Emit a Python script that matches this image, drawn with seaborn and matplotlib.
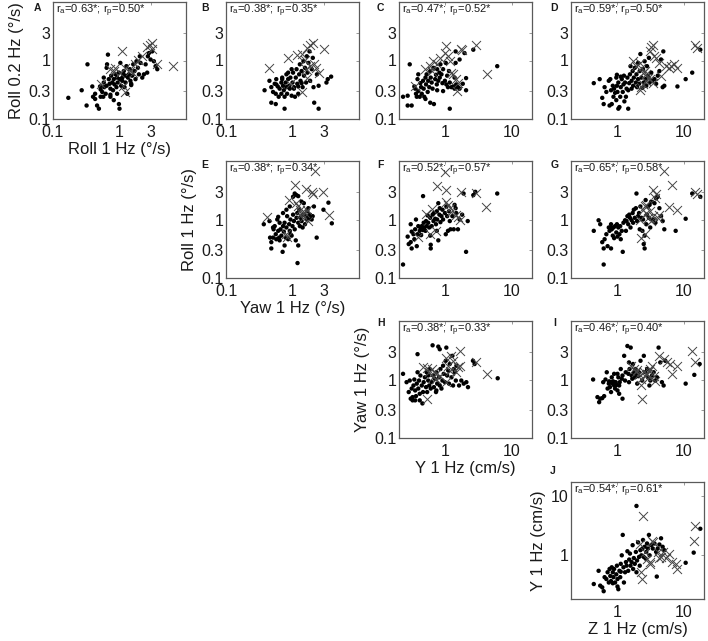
import matplotlib
matplotlib.use("Agg")
import matplotlib.pyplot as plt
from matplotlib.ticker import FixedLocator, FixedFormatter, NullLocator
import seaborn as sns
import pandas as pd

sns.set_style("white")
plt.rcParams["font.family"] = ["Liberation Sans", "DejaVu Sans"]
plt.rcParams["mathtext.fontset"] = "custom"
plt.rcParams["mathtext.rm"] = "Liberation Sans"
plt.rcParams["mathtext.default"] = "regular"

# ---------------- data (x, y) per panel ----------------
A_dots = [(0.17,0.23),(0.27,0.31),(0.32,0.17),(0.33,0.86),(0.39,0.36),(0.40,0.24),(0.43,0.27),(0.46,0.17),(0.49,0.15),(0.51,0.36),(0.52,0.32),(0.55,0.29),(0.57,0.24),(0.58,0.42),(0.59,0.35),(0.62,0.27),(0.64,0.37),(0.64,0.75),(0.65,0.86),(0.67,1.26),(0.69,0.48),(0.71,0.40),(0.73,0.33),(0.73,0.26),(0.75,0.55),(0.78,0.42),(0.80,0.31),(0.82,0.48),(0.84,0.39),(0.87,0.58),(0.90,0.35),(0.92,0.27),(0.94,0.42),(0.98,0.62),(0.98,0.18),(1.0,0.15),(1.01,0.48),(1.03,0.91),(1.06,0.37),(1.10,0.51),(1.14,0.58),(1.16,0.66),(1.19,0.35),(1.23,0.42),(1.27,0.80),(1.31,0.27),(1.34,0.51),(1.38,0.58),(1.43,0.71),(1.46,0.45),(1.50,0.40),(1.55,0.55),(1.61,0.86),(1.68,0.66),(1.74,0.48),(1.80,0.97),(1.89,0.75),(1.96,0.58),(2.02,1.18),(2.07,0.91),(2.20,0.51),(2.33,0.58),(2.47,0.86),(2.61,0.62),(2.67,1.18),(2.77,1.34),(2.93,1.04),(3.10,1.43),(3.29,0.97),(3.49,0.80),(3.70,0.71),(0.73,0.24),(0.82,0.21),(0.58,0.51),(0.52,0.24),(0.43,0.22),(0.92,0.51),(1.10,0.45),(1.23,0.55),(1.50,0.38)]
A_cross = [(1.10,1.43),(0.52,0.39),(0.73,0.71),(0.82,0.66),(0.87,0.75),(1.03,0.62),(1.23,0.74),(1.46,0.66),(1.60,0.60),(1.74,0.86),(1.89,1.04),(2.19,1.18),(2.61,1.67),(2.86,1.85),(3.10,1.97),(3.10,1.58),(3.70,0.86),(6.43,0.80),(1.23,0.29),(1.14,0.37)]

B_dots = [(0.38,0.31),(0.45,0.45),(0.48,0.35),(0.51,0.29),(0.54,0.40),(0.56,0.27),(0.57,0.48),(0.60,0.36),(0.62,0.24),(0.64,0.33),(0.68,0.42),(0.68,0.27),(0.70,0.51),(0.72,0.37),(0.74,0.31),(0.76,0.24),(0.79,0.42),(0.81,0.58),(0.81,0.35),(0.83,0.27),(0.86,0.48),(0.89,0.37),(0.91,0.33),(0.93,0.51),(0.97,0.25),(1.0,0.42),(1.02,0.62),(1.05,0.35),(1.09,0.24),(1.12,0.51),(1.15,0.71),(1.18,0.40),(1.22,0.27),(1.26,0.58),(1.29,0.86),(1.32,0.45),(1.37,0.66),(1.42,0.35),(1.46,0.97),(1.49,0.55),(1.54,0.75),(1.60,0.42),(1.64,1.18),(1.68,0.62),(1.74,0.91),(1.80,1.43),(1.84,0.45),(1.95,0.71),(2.02,1.11),(2.07,0.35),(2.33,0.58),(2.47,0.37),(3.24,0.42),(3.39,0.48),(3.81,0.53),(2.12,0.19),(2.47,0.15),(0.48,0.19),(0.56,0.18),(0.76,0.15),(0.57,0.39),(0.70,0.48),(1.05,0.33),(1.22,0.36),(1.37,0.41),(0.86,0.62),(0.97,0.71)]
B_cross = [(0.45,0.74),(0.86,1.11),(1.15,1.26),(1.37,1.29),(1.54,1.04),(1.64,1.63),(1.84,1.85),(2.02,1.97),(2.95,1.58),(1.60,0.71),(1.84,0.80),(2.07,0.88),(2.25,0.74),(2.47,0.60),(1.37,0.29),(1.64,0.50),(0.91,0.39)]

C_dots = [(0.23,0.24),(0.27,0.25),(0.27,0.17),(0.31,0.17),(0.34,0.36),(0.35,0.33),(0.36,0.27),(0.37,0.24),(0.38,0.48),(0.39,0.30),(0.41,0.24),(0.42,0.41),(0.43,0.35),(0.44,0.27),(0.46,0.45),(0.47,0.33),(0.48,0.24),(0.50,0.51),(0.51,0.39),(0.52,0.58),(0.54,0.29),(0.55,0.45),(0.57,0.35),(0.59,0.66),(0.60,0.51),(0.62,0.42),(0.64,0.33),(0.66,0.75),(0.67,0.18),(0.70,0.48),(0.72,0.57),(0.74,0.39),(0.75,0.71),(0.78,0.45),(0.81,0.62),(0.82,0.51),(0.84,0.86),(0.87,0.58),(0.90,0.41),(0.92,0.71),(0.98,0.45),(1.01,0.91),(1.03,0.39),(1.06,0.55),(1.09,0.35),(1.13,0.66),(1.16,0.42),(1.23,0.35),(1.30,0.36),(1.37,0.33),(1.45,0.39),(1.54,0.35),(1.63,0.33),(1.82,0.40),(2.04,0.50),(2.04,0.31),(1.16,0.15),(1.42,1.43),(1.93,1.34),(2.62,1.53),(6.0,0.80),(0.29,0.86),(0.59,0.19),(0.50,0.22),(0.39,0.58),(0.75,0.31),(0.92,0.30),(1.37,0.51),(1.63,1.04),(1.42,0.91)]
C_cross = [(0.35,0.36),(0.50,0.71),(0.59,0.80),(0.66,0.97),(0.75,0.86),(0.82,1.11),(0.98,1.34),(1.03,1.74),(1.09,1.18),(1.16,0.97),(1.23,0.62),(1.30,0.58),(1.45,0.48),(1.53,0.42),(1.49,0.30),(1.72,1.58),(1.78,1.50),(2.87,1.85),(4.27,0.58),(0.62,0.66)]

D_dots = [(0.44,0.41),(0.54,0.48),(0.59,0.23),(0.62,0.18),(0.64,0.35),(0.68,0.29),(0.74,0.45),(0.78,0.48),(0.80,0.31),(0.82,0.18),(0.85,0.37),(0.87,0.24),(0.89,0.33),(0.92,0.28),(0.96,0.51),(0.96,0.21),(0.98,0.37),(1.0,0.29),(1.03,0.42),(1.03,0.15),(1.07,0.16),(1.10,0.24),(1.12,0.35),(1.16,0.48),(1.20,0.29),(1.23,0.39),(1.25,0.55),(1.30,0.42),(1.34,0.24),(1.37,0.33),(1.41,0.51),(1.45,0.15),(1.45,0.31),(1.50,0.41),(1.54,0.58),(1.57,0.80),(1.63,0.45),(1.63,0.33),(1.69,0.66),(1.72,0.37),(1.76,0.51),(1.82,0.75),(1.89,0.42),(1.93,0.58),(1.97,0.35),(2.04,0.48),(2.04,0.91),(2.11,0.40),(2.16,0.66),(2.21,1.29),(2.29,0.51),(2.37,0.34),(2.42,0.71),(2.48,0.42),(2.56,0.97),(2.65,0.48),(2.71,0.37),(2.78,0.80),(2.87,0.55),(2.97,1.11),(3.04,0.42),(3.22,0.62),(3.33,0.45),(3.60,0.48),(3.81,0.40),(4.03,0.55),(4.27,0.66),(4.52,1.04),(4.78,0.35),(4.89,1.43),(5.06,0.37),(7.97,0.36),(10.6,0.48),(13.3,0.62),(17.6,1.53),(0.76,0.17),(1.27,0.20),(1.12,0.53),(0.98,0.57)]
D_cross = [(1.72,0.97),(1.93,0.80),(2.16,0.91),(2.29,0.75),(2.42,0.62),(2.56,0.66),(2.71,0.58),(2.87,0.51),(3.04,1.43),(3.22,1.73),(3.40,1.85),(3.60,1.18),(3.81,1.11),(4.27,0.91),(4.52,0.55),(5.35,0.80),(5.99,0.75),(6.35,0.80),(7.12,0.86),(7.97,0.75),(2.16,0.31),(2.29,0.35),(2.42,0.40),(2.71,0.45),(3.04,0.48),(3.40,0.42),(14.9,1.85),(15.7,1.63)]

E_dots = [(0.37,0.83),(0.45,0.94),(0.46,0.49),(0.48,0.41),(0.48,0.32),(0.51,0.73),(0.52,0.68),(0.54,0.77),(0.56,0.56),(0.57,0.46),(0.59,1.0),(0.61,0.64),(0.63,0.49),(0.64,0.88),(0.66,0.68),(0.68,0.53),(0.71,0.28),(0.72,0.77),(0.74,0.62),(0.76,0.88),(0.79,0.49),(0.81,0.73),(0.83,1.14),(0.86,0.46),(0.89,0.83),(0.91,0.64),(0.93,1.0),(0.97,0.53),(1.0,0.77),(1.02,1.21),(1.05,0.94),(1.08,0.68),(1.12,0.44),(1.15,1.07),(1.18,1.29),(1.22,0.88),(1.22,0.36),(1.26,1.47),(1.29,0.77),(1.32,1.07),(1.37,0.94),(1.42,0.73),(1.45,1.21),(1.48,1.90),(1.54,0.83),(1.59,1.14),(1.63,1.0),(1.67,1.38),(1.73,1.56),(1.79,1.07),(1.83,1.21),(1.94,1.0),(2.01,1.14),(2.10,1.67),(2.31,0.49),(2.92,1.47),(3.47,1.94),(3.90,0.86),(1.19,0.18),(1.08,2.78),(1.02,2.45),(1.22,2.51),(1.37,2.02),(0.91,1.67),(0.81,1.47),(0.72,1.29),(0.61,1.11),(0.51,0.49),(0.64,0.44),(0.93,0.56),(0.76,0.36),(1.15,2.61)]
E_cross = [(0.42,1.11),(0.83,0.51),(0.89,2.15),(1.08,3.83),(1.12,1.90),(1.22,1.67),(1.29,1.47),(1.32,1.29),(1.37,1.26),(1.54,1.29),(1.63,1.47),(1.73,0.94),(1.94,2.97),(2.06,2.78),(1.59,3.37),(2.18,6.8),(2.92,2.97),(3.59,1.21),(1.45,1.07),(0.80,0.56)]

F_dots = [(0.23,0.17),(0.27,0.51),(0.28,0.38),(0.30,0.41),(0.31,0.62),(0.31,0.32),(0.33,0.56),(0.34,0.46),(0.35,0.68),(0.36,1.0),(0.37,0.35),(0.38,0.56),(0.39,0.77),(0.41,0.64),(0.42,0.73),(0.43,0.54),(0.44,0.77),(0.46,0.66),(0.47,0.88),(0.48,0.73),(0.50,0.64),(0.51,0.94),(0.52,0.77),(0.54,1.17),(0.55,0.88),(0.57,0.73),(0.59,1.07),(0.60,0.37),(0.60,0.32),(0.62,0.77),(0.64,1.21),(0.66,0.94),(0.67,1.29),(0.70,1.03),(0.72,0.83),(0.74,1.38),(0.75,1.0),(0.78,1.90),(0.81,1.21),(0.82,1.56),(0.84,0.90),(0.87,1.14),(0.90,1.47),(0.92,1.0),(0.98,1.29),(1.01,0.56),(1.03,1.67),(1.06,1.14),(1.09,0.64),(1.13,1.38),(1.16,0.94),(1.19,0.68),(1.27,1.14),(1.33,0.68),(1.37,1.78),(1.42,1.56),(1.45,1.29),(1.54,0.68),(1.63,1.0),(1.78,1.21),(1.87,2.78),(2.04,0.28),(2.16,0.94),(2.62,2.61),(2.81,2.97),(6.0,2.78),(0.46,2.51),(0.30,0.83),(0.74,0.64),(0.59,0.53),(0.78,0.44)]
F_cross = [(0.98,6.6),(0.75,3.69),(1.03,3.16),(1.72,2.97),(2.87,2.85),(4.12,1.63),(1.03,2.02),(1.09,1.78),(0.62,1.51),(0.51,1.26),(0.72,0.64),(0.39,0.51),(1.23,1.33),(1.42,1.21),(1.54,1.11),(1.67,1.0),(0.59,0.56),(1.16,1.6)]

G_dots = [(0.44,0.64),(0.52,0.97),(0.55,0.83),(0.59,0.41),(0.62,0.32),(0.64,0.46),(0.68,0.56),(0.71,0.35),(0.74,0.73),(0.76,0.64),(0.78,0.73),(0.80,0.83),(0.82,0.68),(0.85,0.53),(0.87,0.73),(0.89,0.48),(0.92,0.77),(0.96,0.60),(0.98,0.83),(1.0,0.51),(1.03,0.73),(1.07,0.56),(1.10,0.77),(1.12,0.46),(1.16,0.64),(1.20,0.28),(1.23,0.88),(1.30,0.97),(1.34,0.64),(1.37,0.94),(1.41,1.14),(1.45,0.83),(1.50,1.21),(1.54,1.07),(1.57,0.73),(1.63,0.97),(1.69,1.29),(1.72,0.88),(1.76,1.47),(1.82,1.07),(1.89,1.56),(1.93,2.78),(1.97,0.94),(2.04,1.14),(2.11,1.29),(2.16,0.68),(2.21,1.67),(2.29,1.07),(2.37,0.64),(2.42,1.0),(2.48,0.38),(2.56,0.53),(2.65,2.15),(2.71,0.83),(2.78,1.21),(2.87,1.67),(2.97,1.07),(3.04,1.78),(3.11,0.73),(3.22,2.02),(3.40,1.0),(3.60,1.90),(3.72,0.88),(3.81,2.30),(4.03,2.45),(4.27,1.56),(4.52,1.14),(4.78,0.94),(5.06,0.68),(7.5,0.64),(10.6,1.03),(17.6,2.45),(13.3,2.78),(2.56,0.32),(0.62,0.17),(0.80,0.32)]
G_cross = [(2.29,0.49),(2.56,0.56),(2.16,1.0),(2.42,1.47),(2.56,1.67),(2.71,1.29),(2.87,1.07),(3.04,1.38),(3.22,0.94),(3.40,1.14),(3.48,3.16),(3.72,2.30),(3.81,2.78),(4.03,1.07),(4.27,1.21),(5.06,6.8),(6.71,3.83),(5.99,1.63),(7.97,1.47),(14.9,2.97),(15.7,2.78),(2.65,1.78)]

H_dots = [(0.23,1.25),(0.26,0.90),(0.28,0.61),(0.29,0.96),(0.30,0.47),(0.31,0.70),(0.32,0.50),(0.33,0.79),(0.34,1.0),(0.35,0.65),(0.36,0.52),(0.37,0.85),(0.38,1.33),(0.39,0.70),(0.40,0.96),(0.41,0.57),(0.42,1.17),(0.44,0.79),(0.45,0.39),(0.46,0.61),(0.47,0.90),(0.49,1.09),(0.51,0.74),(0.52,1.33),(0.53,0.61),(0.55,0.96),(0.57,0.79),(0.58,1.51),(0.60,0.70),(0.62,0.90),(0.64,3.84),(0.65,1.17),(0.67,0.74),(0.69,1.03),(0.72,0.61),(0.73,1.33),(0.75,0.85),(0.78,3.65),(0.80,1.09),(0.82,0.79),(0.84,1.51),(0.87,0.70),(0.90,0.96),(0.92,1.72),(0.94,1.25),(0.98,0.90),(1.01,2.09),(1.03,3.51),(1.06,1.17),(1.10,1.42),(1.13,0.85),(1.16,1.84),(1.23,1.09),(1.27,2.54),(1.30,0.79),(1.33,1.51),(1.38,1.33),(1.43,0.96),(1.46,1.72),(1.60,0.79),(1.73,0.96),(1.88,0.85),(2.06,0.90),(2.18,0.74),(2.59,2.09),(2.74,1.84),(6.1,1.05),(0.38,2.71),(0.35,0.44),(0.32,0.44),(0.41,0.44),(0.73,0.65),(0.55,1.17),(0.82,3.29)]
H_cross = [(0.52,1.55),(0.57,1.36),(0.62,1.51),(0.67,1.33),(0.72,1.25),(0.53,0.47),(0.64,1.09),(0.82,1.17),(1.01,2.29),(1.10,1.72),(1.23,2.54),(1.30,2.09),(1.03,0.90),(1.16,1.42),(1.46,1.33),(1.55,1.61),(1.64,1.72),(1.67,3.08),(2.90,1.96),(4.24,1.25),(0.46,1.61),(0.73,1.03)]

I_dots = [(0.43,1.0),(0.50,0.50),(0.53,0.41),(0.55,0.47),(0.59,0.48),(0.61,0.90),(0.63,0.52),(0.66,1.0),(0.69,1.33),(0.71,0.70),(0.74,0.85),(0.75,0.93),(0.77,0.74),(0.80,0.61),(0.82,1.09),(0.84,0.85),(0.86,0.93),(0.89,0.79),(0.92,0.70),(0.94,0.90),(0.97,0.81),(1.0,0.65),(1.03,1.09),(1.06,0.57),(1.08,0.90),(1.12,1.51),(1.16,1.03),(1.19,1.17),(1.26,2.54),(1.30,0.96),(1.33,1.33),(1.41,3.74),(1.46,1.25),(1.49,0.90),(1.52,1.51),(1.58,3.51),(1.63,1.17),(1.67,1.03),(1.71,1.84),(1.77,1.33),(1.83,1.09),(1.87,1.51),(1.92,1.25),(1.98,0.85),(2.05,1.14),(2.10,1.33),(2.22,2.09),(2.35,0.96),(2.49,2.54),(2.63,1.33),(2.79,1.51),(2.88,1.09),(3.02,0.79),(3.12,0.96),(3.31,1.17),(3.50,1.33),(3.71,0.96),(3.93,1.09),(4.15,3.51),(4.40,1.96),(4.66,0.90),(4.94,0.79),(5.23,2.09),(10.6,0.85),(14.3,1.20),(17.2,1.84),(1.0,1.25),(0.89,1.25),(0.80,0.90),(1.06,0.79),(1.19,0.47),(1.49,1.96)]
I_cross = [(1.58,1.72),(1.77,1.51),(1.87,1.33),(1.98,1.47),(2.10,1.25),(2.22,1.03),(2.22,0.79),(2.35,0.47),(2.49,1.33),(2.63,1.17),(2.79,1.25),(2.95,1.09),(3.12,1.51),(3.31,1.72),(3.50,1.17),(3.71,0.96),(4.15,2.54),(4.94,2.23),(5.53,1.96),(6.19,1.84),(6.56,1.25),(7.78,1.72),(13.3,3.08),(14.5,2.01),(2.95,1.42)]

J_dots = [(0.44,0.33),(0.52,0.55),(0.55,0.31),(0.59,0.29),(0.62,0.25),(0.64,0.43),(0.68,0.40),(0.71,0.52),(0.74,0.35),(0.76,0.59),(0.78,0.45),(0.80,0.37),(0.82,0.63),(0.85,0.52),(0.87,0.43),(0.89,0.59),(0.92,0.35),(0.96,0.48),(0.98,0.67),(1.0,0.40),(1.03,0.27),(1.07,0.55),(1.10,0.43),(1.12,0.72),(1.16,1.0),(1.20,2.20),(1.23,0.63),(1.25,0.35),(1.30,0.52),(1.34,0.77),(1.37,0.67),(1.41,1.17),(1.45,0.55),(1.50,0.85),(1.54,1.07),(1.57,0.67),(1.63,0.77),(1.69,1.48),(1.72,0.59),(1.76,0.90),(1.82,0.72),(1.89,1.14),(1.93,0.52),(1.97,0.82),(2.04,1.65),(2.11,0.94),(2.16,0.67),(2.21,1.22),(2.29,1.0),(2.37,1.30),(2.42,1.81),(2.48,0.94),(2.56,1.39),(2.65,0.88),(2.71,1.14),(2.78,1.58),(2.87,1.30),(2.97,2.20),(3.04,1.0),(3.22,1.48),(3.40,1.30),(3.60,1.58),(3.81,1.14),(3.90,0.44),(4.03,1.30),(4.27,1.52),(4.52,1.93),(4.78,1.39),(5.06,1.22),(10.6,0.75),(14.0,1.11),(17.6,2.79),(1.93,6.74),(1.0,0.30),(0.85,0.34),(1.12,0.53)]
J_cross = [(2.42,4.54),(2.21,1.52),(2.56,1.14),(3.11,0.77),(2.29,0.52),(2.37,0.40),(3.33,1.74),(3.48,1.65),(4.03,1.14),(4.17,0.90),(4.52,0.94),(4.89,1.14),(5.35,0.90),(5.99,1.07),(6.71,0.77),(7.5,0.72),(7.97,0.58),(14.4,3.06),(14.0,1.74),(3.04,0.72),(2.78,0.88)]

# correlation annotations (r_a, r_p)
r_values = {"A": ("0.63", "0.50"), "B": ("0.38", "0.35"), "C": ("0.47", "0.52"),
            "D": ("0.59", "0.50"), "E": ("0.38", "0.34"), "F": ("0.52", "0.57"),
            "G": ("0.65", "0.58"), "H": ("0.38", "0.33"), "I": ("0.46", "0.40"),
            "J": ("0.54", "0.61")}

xlabels = {"A": "Roll 1 Hz (°/s)", "E": "Yaw 1 Hz (°/s)", "H": "Y 1 Hz (cm/s)", "J": "Z 1 Hz (cm/s)"}
ylabels = {"A": "Roll 0.2 Hz (°/s)", "E": "Roll 1 Hz (°/s)", "H": "Yaw 1 Hz (°/s)", "J": "Y 1 Hz (cm/s)"}

ticks_small = [0.1, 1, 3]
ticks_big = [1, 10]
yticks_std = [0.1, 0.3, 1, 3]

# ---------------- layout ----------------
W, H = 708, 641
fig = plt.figure(figsize=(W / 100, H / 100), dpi=100)

col_left = [53, 226, 399, 571]
row_top = [2, 161, 321, 482]
BW, BH = 133, 117

panels = [
    ("A", 0, 0, A_dots, A_cross, (0.1, 10), (0.1, 10), ticks_small, yticks_std, (34, 3)),
    ("B", 0, 1, B_dots, B_cross, (0.1, 10), (0.1, 10), ticks_small, yticks_std, (201, 3)),
    ("C", 0, 2, C_dots, C_cross, (0.2, 20), (0.1, 10), ticks_big, yticks_std, (377, 3)),
    ("D", 0, 3, D_dots, D_cross, (0.2, 20), (0.1, 10), ticks_big, yticks_std, (550, 3)),
    ("E", 1, 1, E_dots, E_cross, (0.1, 10), (0.1, 10), ticks_small, yticks_std, (201, 160)),
    ("F", 1, 2, F_dots, F_cross, (0.2, 20), (0.1, 10), ticks_big, yticks_std, (377, 160)),
    ("G", 1, 3, G_dots, G_cross, (0.2, 20), (0.1, 10), ticks_big, yticks_std, (551, 160)),
    ("H", 2, 2, H_dots, H_cross, (0.2, 20), (0.1, 10), ticks_big, yticks_std, (377, 318)),
    ("I", 2, 3, I_dots, I_cross, (0.2, 20), (0.1, 10), ticks_big, yticks_std, (553, 318)),
    ("J", 3, 3, J_dots, J_cross, (0.2, 20), (0.185, 17), ticks_big, [1, 10], (550, 466)),
]

def fmt(v):
    return f"{v:g}"

for key, r, c, dots, cross, xl, yl, xt, yt, lpos in panels:
    left = col_left[c] / W
    bottom = 1 - (row_top[r] + BH) / H
    ax = fig.add_axes([left, bottom, BW / W, BH / H])
    ax.set_xscale("log")
    ax.set_yscale("log")
    ddf = pd.DataFrame(dots, columns=["x", "y"])
    cdf = pd.DataFrame(cross, columns=["x", "y"])
    sns.scatterplot(data=ddf, x="x", y="y", ax=ax, marker="o", s=10,
                    color="black", edgecolor="none", linewidth=0, zorder=3)
    sns.scatterplot(data=cdf, x="x", y="y", ax=ax, marker="x", s=42,
                    color="#444444", linewidth=0.7, zorder=4)
    ax.set_xlim(*xl)
    ax.set_ylim(*yl)
    ax.xaxis.set_major_locator(FixedLocator(xt))
    ax.xaxis.set_major_formatter(FixedFormatter([fmt(v) for v in xt]))
    ax.yaxis.set_major_locator(FixedLocator(yt))
    ax.yaxis.set_major_formatter(FixedFormatter([fmt(v) for v in yt]))
    ax.xaxis.set_minor_locator(NullLocator())
    ax.yaxis.set_minor_locator(NullLocator())
    ax.tick_params(axis="both", which="major", direction="in", length=2.5,
                   width=0.6, color="#888888", labelsize=11.5, labelcolor="#1a1a1a",
                   top=True, right=True)
    ax.tick_params(axis="x", pad=4)
    ax.tick_params(axis="y", pad=2)
    for sp in ax.spines.values():
        sp.set_color("#5a5a5a")
        sp.set_linewidth(0.9)
    ax.set_xlabel(xlabels.get(key, ""), fontsize=12, color="#1a1a1a", labelpad=2)
    ax.set_ylabel(ylabels.get(key, ""), fontsize=12, color="#1a1a1a", labelpad=3)
    ra, rp = r_values[key]
    ax.text(0.02, 0.995, rf"r$_a$={ra}*; r$_p$={rp}*", transform=ax.transAxes,
            ha="left", va="top", fontsize=8, color="#1a1a1a")
    fig.text(lpos[0] / W, 1 - lpos[1] / H, key, ha="left", va="top",
             fontsize=7.5, fontweight="bold", color="#1a1a1a")

fig.savefig("out.png", dpi=100, facecolor="white")
